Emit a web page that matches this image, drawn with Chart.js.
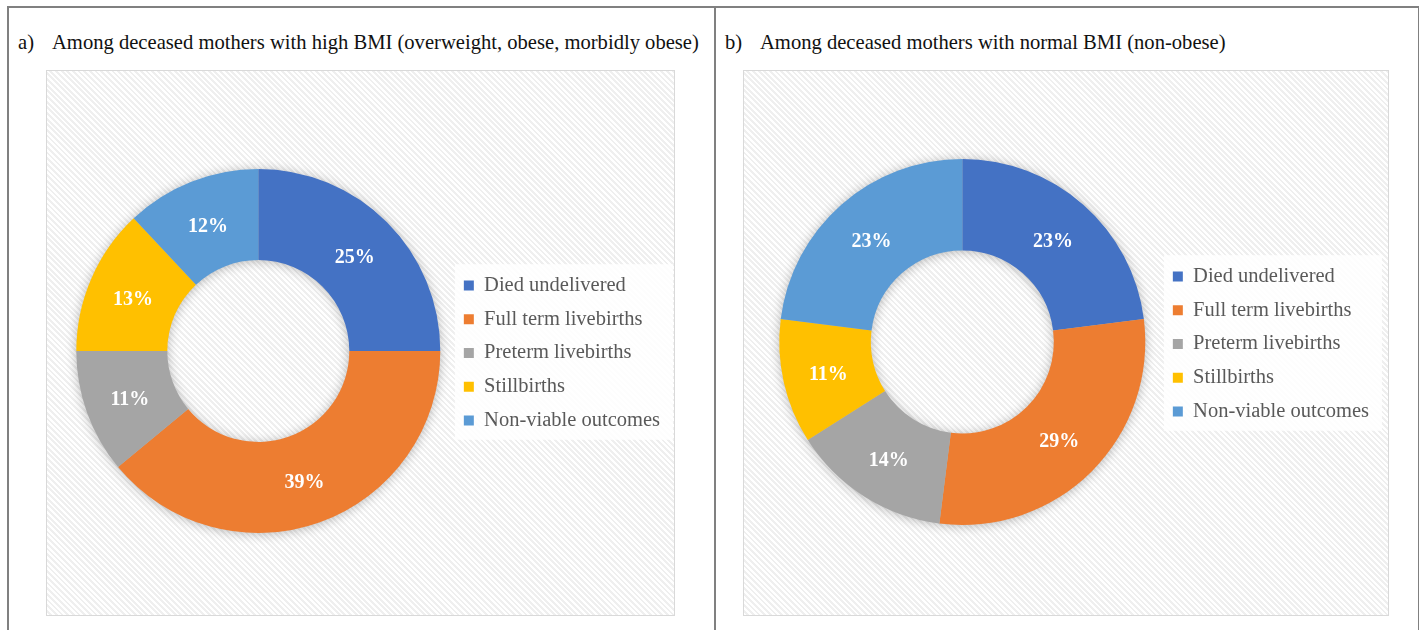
<!DOCTYPE html>
<html>
<head>
<meta charset="utf-8">
<script src="https://cdn.jsdelivr.net/npm/chart.js@4.4.1/dist/chart.umd.min.js"></script>
<style>
  body { margin: 0; width: 1419px; height: 630px; overflow: hidden; background: #fff; font-family: "Liberation Serif", "Times New Roman", serif; position: relative; }
  .frame { position: absolute; left: 7px; top: 6px; width: 1409px; height: 700px; border: 2px solid #808080; border-bottom: none; }
  .divider { position: absolute; left: 714px; top: 6px; width: 2px; height: 700px; background: #808080; }
  .title { position: absolute; top: 31px; font-size: 20.6px; color: #111; white-space: nowrap; }
  .box { position: absolute; top: 70px; height: 546px; box-sizing: border-box; border: 1px solid #d9d9d9;
         background: repeating-linear-gradient(45deg, #ffffff 0px, #ffffff 2px, #efefef 2px, #efefef 4px); }
  .box canvas { position: absolute; left: 0; top: 0; }
</style>
</head>
<body>
<div class="frame"></div>
<div class="divider"></div>
<div class="title" style="left:18px">a)</div>
<div class="title" style="left:52px">Among deceased mothers with high BMI (overweight, obese, morbidly obese)</div>
<div class="title" style="left:725px">b)</div>
<div class="title" style="left:760px">Among deceased mothers with normal BMI (non-obese)</div>

<div class="box" style="left:46px; width:629px;">
  <canvas id="chart-high-bmi" width="627" height="544"></canvas>
</div>
<div class="box" style="left:743px; width:646px;">
  <canvas id="chart-normal-bmi" width="644" height="544"></canvas>
</div>

<script>
  const outcomes = ['Died undelivered', 'Full term livebirths', 'Preterm livebirths', 'Stillbirths', 'Non-viable outcomes'];
  const highBmiShares = [25, 39, 11, 13, 12];
  const normalBmiShares = [23, 29, 14, 11, 23];
  const sliceColors = ['#4472C4', '#ED7D31', '#A5A5A5', '#FFC000', '#5B9BD5'];

  // nudge the legend block down a little after layout
  const legendNudge = {
    id: 'legendNudge',
    afterLayout(chart) {
      const legend = chart.legend;
      if (!legend) return;
      legend.top += 2;
      legend.bottom += 2;
    }
  };

  // soft drop shadow under the whole ring, painted once so slice joins stay clean
  const ringShadow = {
    id: 'ringShadow',
    beforeDatasetsDraw(chart) {
      const arc = chart.getDatasetMeta(0).data[0];
      if (!arc) return;
      const {x, y, outerRadius, innerRadius} = arc.getProps(['x', 'y', 'outerRadius', 'innerRadius'], true);
      const ctx = chart.ctx;
      ctx.save();
      ctx.shadowColor = 'rgba(0, 0, 0, 0.32)';
      ctx.shadowBlur = 12;
      ctx.shadowOffsetY = 1;
      ctx.beginPath();
      ctx.arc(x, y, outerRadius - 1, 0, Math.PI * 2);
      ctx.arc(x, y, innerRadius + 1, 0, Math.PI * 2, true);
      ctx.fillStyle = '#bbbbbb';
      ctx.fill();
      ctx.restore();
    }
  };

  // white panel behind the legend entries
  const legendPanel = {
    id: 'legendPanel',
    beforeDraw(chart) {
      const legend = chart.legend;
      const boxes = legend && legend.legendHitBoxes;
      if (!boxes || !boxes.length) return;
      const last = boxes[boxes.length - 1];
      const top = boxes[0].top - 11;
      const bottom = last.top + last.height + 9;
      const left = boxes[0].left - 9;
      const right = legend.right + 3;
      const ctx = chart.ctx;
      ctx.save();
      ctx.fillStyle = 'rgba(255, 255, 255, 0.88)';
      ctx.fillRect(left, top, right - left, bottom - top);
      ctx.restore();
    }
  };

  // percentage labels at the middle of each slice
  const sliceLabels = {
    id: 'sliceLabels',
    afterDatasetsDraw(chart) {
      const ctx = chart.ctx;
      const values = chart.data.datasets[0].data;
      ctx.save();
      ctx.fillStyle = '#ffffff';
      ctx.font = 'bold 20px "Liberation Serif"';
      ctx.textAlign = 'center';
      ctx.textBaseline = 'middle';
      chart.getDatasetMeta(0).data.forEach((arc, i) => {
        const pos = arc.tooltipPosition(true);
        ctx.fillText(values[i] + '%', pos.x, pos.y + 3);
      });
      ctx.restore();
    }
  };

  function makeDonut(canvasId, shares, padding) {
    const ctx = document.getElementById(canvasId).getContext('2d');
    return new Chart(ctx, {
      type: 'doughnut',
      data: {
        labels: outcomes,
        datasets: [{
          data: shares,
          backgroundColor: sliceColors,
          borderWidth: 0,
          hoverOffset: 0
        }]
      },
      options: {
        responsive: false,
        animation: false,
        cutout: '50%',
        layout: {padding: padding},
        plugins: {
          tooltip: {enabled: false},
          legend: {
            position: 'right',
            labels: {
              boxWidth: 10,
              boxHeight: 10,
              padding: 13.25,
              color: '#595959',
              font: {family: 'Liberation Serif', size: 20.5}
            }
          }
        }
      },
      plugins: [legendNudge, legendPanel, ringShadow, sliceLabels]
    });
  }

  makeDonut('chart-high-bmi', highBmiShares, {left: 19, right: 4, top: 98, bottom: 82});
  makeDonut('chart-normal-bmi', normalBmiShares, {left: 21, right: 9, top: 88, bottom: 90});
</script>
</body>
</html>
